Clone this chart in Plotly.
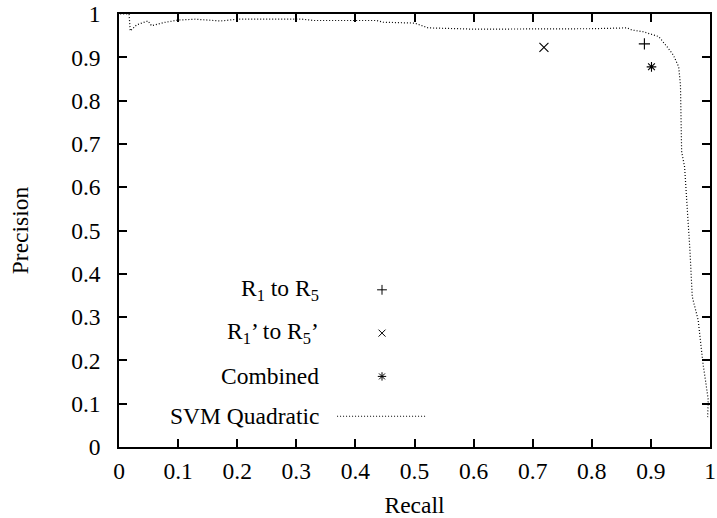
import plotly.graph_objects as go

# SVM Quadratic precision-recall curve
svm_recall = [0.002, 0.017, 0.019, 0.030, 0.049, 0.055, 0.075, 0.10, 0.13, 0.17, 0.18, 0.20, 0.31,
              0.33, 0.436, 0.447, 0.50, 0.523, 0.60, 0.70, 0.80, 0.86, 0.868, 0.887, 0.913,
              0.927, 0.938, 0.947, 0.950, 0.952, 0.957, 0.966, 0.970, 0.980, 0.984, 0.988,
              0.993, 0.997, 0.996]
svm_precision = [1.0, 1.0, 0.961, 0.975, 0.984, 0.973, 0.980, 0.986, 0.988, 0.984, 0.985, 0.988, 0.988,
                 0.985, 0.985, 0.981, 0.979, 0.968, 0.965, 0.965, 0.966, 0.968, 0.963, 0.959, 0.948,
                 0.925, 0.905, 0.878, 0.836, 0.682, 0.647, 0.455, 0.347, 0.293, 0.240, 0.194,
                 0.148, 0.109, 0.069]

# Single-point methods
r15_recall, r15_precision = [0.889], [0.931]
r15p_recall, r15p_precision = [0.719], [0.923]
comb_recall, comb_precision = [0.901], [0.878]

tick_vals = [0, 0.1, 0.2, 0.3, 0.4, 0.5, 0.6, 0.7, 0.8, 0.9, 1]
tick_text = ["0", "0.1", "0.2", "0.3", "0.4", "0.5", "0.6", "0.7", "0.8", "0.9", "1"]

legend_names = ["R<sub>1</sub> to R<sub>5</sub>", "R<sub>1</sub>’ to R<sub>5</sub>’", "Combined", "SVM Quadratic"]

FONT = "Liberation Serif, Times New Roman, serif"
FS = 23.5

fig = go.Figure()

fig.add_trace(go.Scatter(x=svm_recall, y=svm_precision, mode="lines",
                         line=dict(color="black", width=1.2, dash="1px,2px"), showlegend=False))
fig.add_trace(go.Scatter(x=r15_recall, y=r15_precision, mode="markers",
                         marker=dict(symbol="cross-thin", size=8, line=dict(color="black", width=1.1)),
                         showlegend=False))
fig.add_trace(go.Scatter(x=r15p_recall, y=r15p_precision, mode="markers",
                         marker=dict(symbol="x-thin", size=9, line=dict(color="black", width=1.1)),
                         showlegend=False))
fig.add_trace(go.Scatter(x=comb_recall, y=comb_precision, mode="markers",
                         marker=dict(symbol="asterisk", size=8, line=dict(color="black", width=1.1)),
                         showlegend=False))

# Gnuplot-style key (paper-like overlay axes)
key_y = [0.363, 0.263, 0.163, 0.071]
key_x_sym = 0.445
key_x_text = 0.342
key_symbols = ["cross-thin", "x-thin", "asterisk"]
key_sizes = [7, 7, 7]
for i, sym in enumerate(key_symbols):
    fig.add_trace(go.Scatter(x=[key_x_sym], y=[key_y[i]], mode="markers", xaxis="x2", yaxis="y2",
                             marker=dict(symbol=sym, size=key_sizes[i], line=dict(color="black", width=1.0)),
                             showlegend=False, hoverinfo="skip"))
fig.add_trace(go.Scatter(x=[0.369, 0.521], y=[key_y[3], key_y[3]], mode="lines", xaxis="x2", yaxis="y2",
                         line=dict(color="black", width=1.2, dash="1px,2px"),
                         showlegend=False, hoverinfo="skip"))
for i, name in enumerate(legend_names):
    fig.add_annotation(x=key_x_text, y=key_y[i], xref="x2", yref="y2", text=name, showarrow=False,
                       xanchor="right", yanchor="middle", font=dict(family=FONT, size=FS, color="black"))

axis_common = dict(range=[0, 1], tickmode="array", tickvals=tick_vals, ticktext=tick_text,
                   ticks="inside", ticklen=8, tickwidth=1.5, tickcolor="black",
                   showline=True, linecolor="black", linewidth=1.5, mirror="ticks",
                   showgrid=False, zeroline=False, automargin=False,
                   tickfont=dict(family=FONT, size=FS, color="black"))

fig.update_layout(
    width=717, height=518,
    margin=dict(l=119, r=7, t=14, b=71, autoexpand=False),
    plot_bgcolor="white", paper_bgcolor="white",
    xaxis=dict(**axis_common, title=dict(text="Recall", font=dict(family=FONT, size=FS, color="black"), standoff=26),
               ticklabelstandoff=2),
    yaxis=dict(**axis_common, title=dict(text="Precision", font=dict(family=FONT, size=FS, color="black"), standoff=36),
               ticklabelstandoff=12),
    xaxis2=dict(range=[0, 1], overlaying="x", visible=False, domain=[0, 1]),
    yaxis2=dict(range=[0, 1], overlaying="y", visible=False, domain=[0, 1]),
    showlegend=False,
)

fig.write_html("out.html", config={"displayModeBar": False},
               post_script="document.body.style.margin='0';")
